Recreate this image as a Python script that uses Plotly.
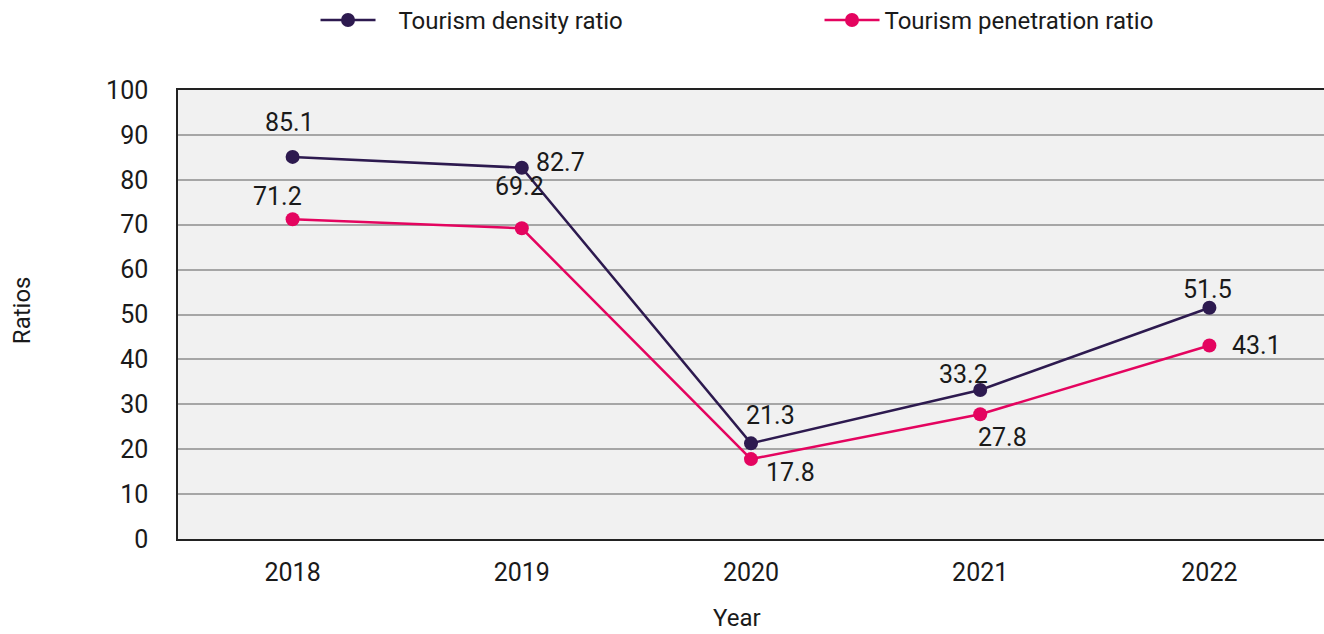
import plotly.graph_objects as go

years = ["2018", "2019", "2020", "2021", "2022"]
density = [85.1, 82.7, 21.3, 33.2, 51.5]
penetration = [71.2, 69.2, 17.8, 27.8, 43.1]

# label nudges in pixels (dx, dy), placed by hand in the source chart
density_shift = [(-3, 34), (39, 5), (19, 28), (-17, 15), (-2, 18)]
penetration_shift = [(-15, 23), (-2, 42), (39, -13), (22, -23), (47, 0)]

font_family = "Roboto, Arial, sans-serif"
c_density = "#2d1a4f"
c_penetration = "#e4045f"

fig = go.Figure()

# non-breaking spaces push the first legend label away from its symbol, as in the source
fig.add_trace(go.Scatter(
    x=years, y=density, name="\u00a0\u00a0\u00a0Tourism density ratio",
    mode="lines+markers",
    line=dict(color=c_density, width=2.5),
    marker=dict(size=14, color=c_density),
))

fig.add_trace(go.Scatter(
    x=years, y=penetration, name="Tourism penetration ratio",
    mode="lines+markers",
    line=dict(color=c_penetration, width=2.5),
    marker=dict(size=14, color=c_penetration),
))

# category axis: annotations take the category index (year strings look numeric)
for vals, shifts in [(density, density_shift), (penetration, penetration_shift)]:
    for i, (v, (dx, dy)) in enumerate(zip(vals, shifts)):
        fig.add_annotation(
            x=i, y=v, text=f"{v:.1f}", showarrow=False,
            xshift=dx, yshift=dy, xanchor="center", yanchor="middle",
            font=dict(size=25, color="#1a1a1a"),
        )

# axis titles as paper annotations so they sit where the source put them
fig.add_annotation(x=0.488, y=-0.176, xref="paper", yref="paper", text="Year",
                   showarrow=False, xanchor="center", yanchor="middle",
                   font=dict(size=24, color="#1a1a1a"))
fig.add_annotation(x=-0.136, y=0.51, xref="paper", yref="paper", text="Ratios",
                   showarrow=False, textangle=-90, xanchor="center", yanchor="middle",
                   font=dict(size=24, color="#1a1a1a"))

fig.update_layout(
    width=1324, height=634,
    margin=dict(l=178, r=0, t=90, b=95, autoexpand=False),
    paper_bgcolor="white",
    plot_bgcolor="#f1f1f1",
    font=dict(family=font_family, size=25, color="#1a1a1a"),
    showlegend=True,
    legend=dict(
        orientation="h", x=0.12, xanchor="left", y=1.155, yanchor="middle",
        font=dict(size=24), entrywidth=434, entrywidthmode="pixels",
        itemwidth=55,
    ),
    xaxis=dict(
        type="category", range=[-0.5, 4.5],
        showline=True, linecolor="#222222", linewidth=1.5, mirror=True,
        showgrid=False, ticks="", ticklabelstandoff=10,
    ),
    yaxis=dict(
        range=[0, 100], dtick=10,
        showline=True, linecolor="#222222", linewidth=1.5,
        gridcolor="#a6a6a6", gridwidth=1.5,
        zeroline=False, ticks="", ticklabelstandoff=23,
    ),
)

fig.write_html(
    "out.html",
    config={"displayModeBar": False},
    post_script="document.body.style.margin='0';document.body.style.overflow='hidden';",
)
